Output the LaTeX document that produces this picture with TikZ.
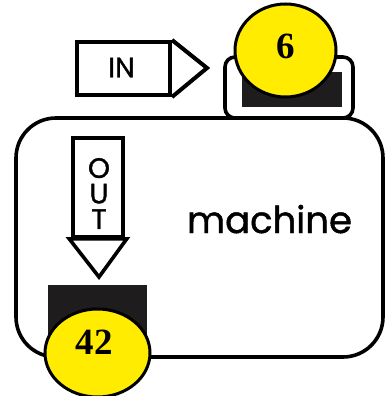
\documentclass[tikz,border=0pt]{standalone}
\usepackage{fontspec}
\usetikzlibrary{shapes.geometric,calc}
\newfontfamily\comicfont{Poppins}[FakeBold=1.2]
\newfontfamily\numfont{Liberation Serif}
\definecolor{ballyellow}{RGB}{255,236,0}
\definecolor{slotdark}{RGB}{30,28,28}
\tikzset{
  outline/.style={draw=black, line width=3.6pt},
  slotbox/.style={fill=slotdark, inner sep=0pt, outer sep=0pt},
  ball/.style={ellipse, draw=black, line width=3pt, fill=ballyellow, inner sep=0pt, outer sep=0pt},
  numlabel/.style={font=\numfont\bfseries\fontsize{37}{37}\selectfont, inner sep=0pt},
  arrowlabel/.style={font=\comicfont\fontsize{28}{25.5}\selectfont, inner sep=0pt, align=center},
}
\begin{document}
\begin{tikzpicture}[x=1pt,y=-1pt]
\useasboundingbox (0,0) rectangle (386,396);
% machine body
\node[outline, rounded corners=40pt, fill=white, minimum width=367pt, minimum height=239pt, inner sep=0pt] (body) at (199.5,237.5) {};
% input tray
\node[outline, rounded corners=10pt, fill=white, minimum width=128pt, minimum height=61pt, inner sep=0pt] (tray) at (289,87.5) {};
\node[slotbox, minimum width=100pt, minimum height=35pt] (slotin) at (292,89.5) {};
\node[ball, minimum width=101pt, minimum height=93pt] (ballin) at (285.5,50.5) {};
\node[numlabel] (six) at (286,46.5) {6};
% IN arrow
\node[outline, line width=4pt, minimum width=93pt, minimum height=53pt, inner sep=0pt] (inbox) at (123.5,68.5) {};
\coordinate (intip) at (207,68);
\draw[outline, line width=4pt, line join=miter] (inbox.north east) -- (intip) -- (inbox.south east);
\node[arrowlabel] (intext) at (121.5,67.5) {IN};
% OUT arrow
\node[outline, minimum width=50pt, minimum height=99pt, inner sep=0pt] (outbox) at (98,187.5) {};
\coordinate (outtip) at (99,277);
\draw[outline, line join=miter] ($(outbox.south west)+(-2,0)$) -- (outtip) -- ($(outbox.south east)+(2,0)$) -- cycle;
\node[arrowlabel] (outtext) at (99,193.5) {O\\U\\T};
% output slot and ball
\node[slotbox, minimum width=99pt, minimum height=60pt] (slotout) at (97.5,315) {};
\node[ball, minimum width=105pt, minimum height=88pt] (ballout) at (97.5,353) {};
\node[numlabel] (fortytwo) at (94,342) {42};
% label
\node[font=\comicfont\fontsize{37}{37}\selectfont, anchor=base, inner sep=0pt] (machinetext) at (269.5,233) {machine};
\end{tikzpicture}
\end{document}
